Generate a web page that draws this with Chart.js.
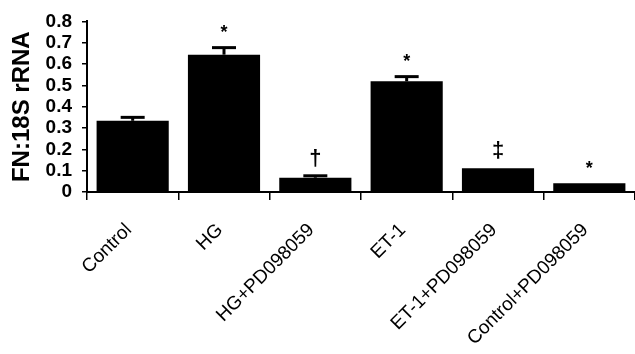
<!DOCTYPE html>
<html>
<head>
<meta charset="utf-8">
<script src="https://cdn.jsdelivr.net/npm/chart.js@4"></script>
<style>
html,body{margin:0;padding:0;background:#fff;}
#wrap{width:635px;height:354px;position:relative;}
</style>
</head>
<body>
<div id="wrap"><canvas id="c" width="635" height="354"></canvas></div>
<script>
const categories = ['Control', 'HG', 'HG+PD098059', 'ET-1', 'ET-1+PD098059', 'Control+PD098059'];
const values = [0.334, 0.644, 0.067, 0.519, 0.111, 0.041];
const errors = [0.016, 0.033, 0.009, 0.022, 0, 0];
const marks = ['', '*', '\u2020', '*', '\u2021', '*'];
const yTicks = [0, 0.1, 0.2, 0.3, 0.4, 0.5, 0.6, 0.7, 0.8];

const errorPlugin = {
  id: 'errorBars',
  afterDatasetsDraw(chart) {
    const ctx = chart.ctx;
    const meta = chart.getDatasetMeta(0);
    const y = chart.scales.y;
    ctx.save();
    ctx.strokeStyle = '#000';
    ctx.fillStyle = '#000';
    meta.data.forEach((bar, i) => {
      const v = values[i], e = errors[i];
      const yb = y.getPixelForValue(v);
      const yt = y.getPixelForValue(v + e);
      if (e > 0) {
        ctx.lineWidth = 3;
        ctx.beginPath();
        ctx.moveTo(bar.x, yb);
        ctx.lineTo(bar.x, yt);
        ctx.stroke();
        ctx.beginPath();
        ctx.moveTo(bar.x - 12, yt);
        ctx.lineTo(bar.x + 12, yt);
        ctx.stroke();
      }
      const m = marks[i];
      if (m) {
        const size = m === '*' ? 18 : 22;
        ctx.font = 'bold ' + size + 'px "Liberation Sans", Arial, sans-serif';
        ctx.textAlign = 'center';
        ctx.textBaseline = 'alphabetic';
        const mt = ctx.measureText(m);
        const cy = yt - (m === '*' ? 19 : 18);
        const by = cy + (mt.actualBoundingBoxAscent - mt.actualBoundingBoxDescent) / 2;
        ctx.fillText(m, bar.x, by);
      }
    });
    ctx.restore();
  }
};

new Chart(document.getElementById('c'), {
  type: 'bar',
  data: {
    labels: categories,
    datasets: [{
      data: values,
      backgroundColor: '#000',
      borderWidth: 0,
      barPercentage: 0.79,
      categoryPercentage: 1.0
    }]
  },
  options: {
    responsive: false,
    animation: false,
    devicePixelRatio: 1,
    layout: { padding: { top: 21, right: 0, bottom: 0, left: 0 } },
    plugins: { legend: { display: false }, tooltip: { enabled: false } },
    scales: {
      x: {
        offset: true,
        border: { display: true, color: '#000', width: 2 },
        grid: { display: true, offset: true, drawOnChartArea: false, drawTicks: true, tickLength: 8, color: '#000', lineWidth: 1.5 },
        ticks: {
          color: '#000',
          font: { family: '"Liberation Sans", Arial, sans-serif', size: 19 },
          minRotation: 45, maxRotation: 45,
          autoSkip: false,
          labelOffset: -4,
          padding: 19
        },
        afterFit(scale) { scale.height = 162; }
      },
      y: {
        min: 0, max: 0.8,
        border: { display: true, color: '#000', width: 2 },
        grid: { display: true, drawOnChartArea: false, drawTicks: true, tickLength: 5, color: '#000', lineWidth: 1.5 },
        afterBuildTicks(scale) { scale.ticks = yTicks.map(v => ({ value: v })); },
        ticks: {
          color: '#000',
          autoSkip: false,
          font: { family: '"Liberation Sans", Arial, sans-serif', size: 19, weight: 'bold' },
          padding: 10
        },
        title: {
          display: true,
          text: 'FN:18S rRNA',
          color: '#000',
          font: { family: '"Liberation Sans", Arial, sans-serif', size: 24, weight: 'bold' },
          padding: { top: 8, bottom: 0 }
        },
        afterFit(scale) { scale.width = 87; }
      }
    }
  },
  plugins: [errorPlugin]
});
</script>
</body>
</html>
